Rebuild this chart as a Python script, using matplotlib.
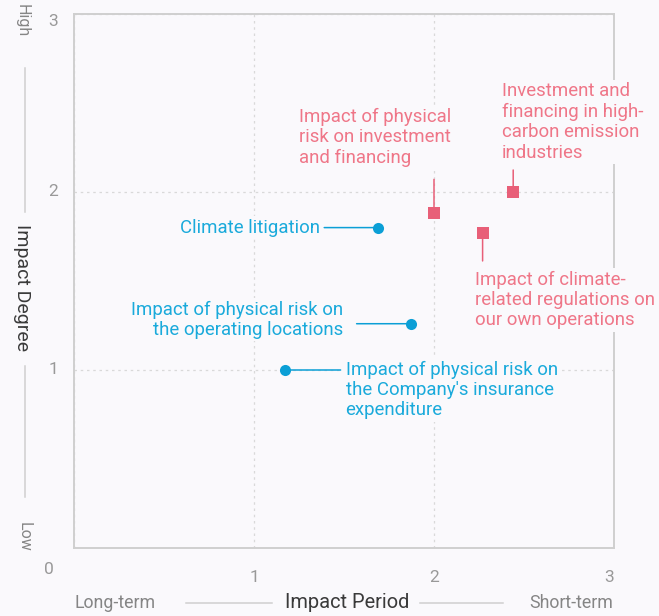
import matplotlib
matplotlib.use("Agg")
import matplotlib.pyplot as plt

# ---- data -------------------------------------------------------------
# risks plotted as blue circles (label sits beside the point)
circle_labels = [
    "Climate litigation",
    "Impact of physical risk on\nthe operating locations",
    "Impact of physical risk on\nthe Company's insurance\nexpenditure",
]
circle_period = [1.69, 1.87, 1.17]
circle_degree = [1.80, 1.26, 1.00]

# risks plotted as pink squares (label sits above / below the point)
square_labels = [
    "Impact of physical\nrisk on investment\nand financing",
    "Investment and\nfinancing in high-\ncarbon emission\nindustries",
    "Impact of climate-\nrelated regulations on\nour own operations",
]
square_period = [2.00, 2.44, 2.27]
square_degree = [1.88, 2.00, 1.77]

x_tick_values = [1, 2, 3]
y_tick_values = [1, 2, 3]
origin_label = "0"

# ---- styling ----------------------------------------------------------
W, H, DPI = 659, 616, 100
BG = "#faf9fc"
BLUE = "#0b9fd6"
BLUE_TXT = "#1aaadb"
PINK = "#e85f78"
PINK_TXT = "#ef7688"
GRID = "#d9d9d9"
FRAME = "#cfcfcf"
TICK = "#999999"
SIDE = "#858585"
TITLE = "#3a3a3a"

plt.rcParams["font.family"] = ["Roboto", "DejaVu Sans"]

fig = plt.figure(figsize=(W / DPI, H / DPI), dpi=DPI, facecolor=BG)
L, R, T, B = 74, 614, 14, 548
ax = fig.add_axes([L / W, 1 - B / H, (R - L) / W, (B - T) / H], facecolor=BG)

ax.set_xlim(0, 3)
ax.set_ylim(0, 3)
ax.set_xticks([0, 1, 2, 3])
ax.set_yticks([0, 1, 2, 3])
ax.tick_params(length=0, labelbottom=False, labelleft=False)
ax.grid(True, color=GRID, linestyle=(0, (2, 3)), linewidth=0.9)
ax.set_axisbelow(True)
for sp in ax.spines.values():
    sp.set_color(FRAME)
    sp.set_linewidth(1.4)


def px(x, y):
    """Figure fraction from pixel position (origin top-left)."""
    return x / W, 1 - y / H


# tick labels
TICK_FS = 12.5
for v in x_tick_values:
    ax.annotate(str(v), xy=(v, 0), xytext=(0, -29), textcoords="offset pixels",
                ha="right" if v == 3 else "center", va="center",
                fontsize=TICK_FS, color=TICK, annotation_clip=False)
for v in y_tick_values:
    ax.annotate(str(v), xy=(0, v), xytext=(-21, 0), textcoords="offset pixels",
                ha="center", va="top" if v == 3 else "center",
                fontsize=TICK_FS, color=TICK, annotation_clip=False)
ax.annotate(origin_label, xy=(0, 0), xytext=(-25, -21), textcoords="offset pixels",
            ha="center", va="center", fontsize=TICK_FS, color=TICK,
            annotation_clip=False)

# axis captions: vertical
fig.text(*px(22, 21), "High", rotation=-90, ha="center", va="center",
         fontsize=11.5, color=SIDE)
fig.text(*px(22, 288), "Impact Degree", rotation=-90, ha="center", va="center",
         fontsize=14, color=TITLE)
fig.text(*px(24, 537), "Low", rotation=-90, ha="center", va="center",
         fontsize=11.5, color=SIDE)
fig.add_artist(plt.Line2D([25 / W, 25 / W], [1 - 68 / H, 1 - 212 / H], color=FRAME, lw=1.1))
fig.add_artist(plt.Line2D([25 / W, 25 / W], [1 - 366 / H, 1 - 497 / H], color=FRAME, lw=1.1))

# axis captions: horizontal
fig.text(*px(75, 603), "Long-term", ha="left", va="center", fontsize=12.8, color=SIDE)
fig.text(*px(347, 603), "Impact Period", ha="center", va="center", fontsize=14.4, color=TITLE)
fig.text(*px(613, 603), "Short-term", ha="right", va="center", fontsize=12.8, color=SIDE)
fig.add_artist(plt.Line2D([186 / W, 272 / W], [1 - 603 / H] * 2, color=FRAME, lw=1.1))
fig.add_artist(plt.Line2D([420 / W, 503 / W], [1 - 603 / H] * 2, color=FRAME, lw=1.1))

label_box = dict(boxstyle="square,pad=0.12", fc=BG, ec="none")
LABEL_FS = 13.4
LINE_SP = 1.17

# blue circles: horizontal leader, label offset (pixels)
circle_leader = [-54, -54, 56]
circle_text_off = [(-58, 0), (-67, 4), (61, -20)]
circle_ha = ["right", "right", "left"]

for i, lab in enumerate(circle_labels):
    x, y = circle_period[i], circle_degree[i]
    ax.annotate("", xy=(x, y), xytext=(circle_leader[i], 0), textcoords="offset pixels",
                arrowprops=dict(arrowstyle="-", color=BLUE, lw=1.1, shrinkA=0, shrinkB=0),
                annotation_clip=False, zorder=4)
    ax.annotate(lab, xy=(x, y), xytext=circle_text_off[i], textcoords="offset pixels",
                ha=circle_ha[i], va="center", multialignment=circle_ha[i],
                fontsize=LABEL_FS, color=BLUE_TXT, linespacing=LINE_SP,
                bbox=label_box, annotation_clip=False, zorder=5)
ax.scatter(circle_period, circle_degree, s=64, marker="o", color=BLUE,
           zorder=6, clip_on=False, linewidths=0)

# pink squares: vertical leader, label offset (pixels)
square_leader = [34, 22, -28]
square_text_off = [(-135, 76), (-11, 70), (-8, -67)]

for i, lab in enumerate(square_labels):
    x, y = square_period[i], square_degree[i]
    ax.annotate("", xy=(x, y), xytext=(0, square_leader[i]), textcoords="offset pixels",
                arrowprops=dict(arrowstyle="-", color=PINK, lw=1.1, shrinkA=0, shrinkB=0),
                annotation_clip=False, zorder=4)
    ax.annotate(lab, xy=(x, y), xytext=square_text_off[i], textcoords="offset pixels",
                ha="left", va="center", multialignment="left",
                fontsize=LABEL_FS, color=PINK_TXT, linespacing=LINE_SP,
                bbox=label_box, annotation_clip=False, zorder=5)
ax.scatter(square_period, square_degree, s=72, marker="s", color=PINK,
           zorder=6, clip_on=False, linewidths=0)

fig.savefig("out.png", dpi=DPI, facecolor=BG)
